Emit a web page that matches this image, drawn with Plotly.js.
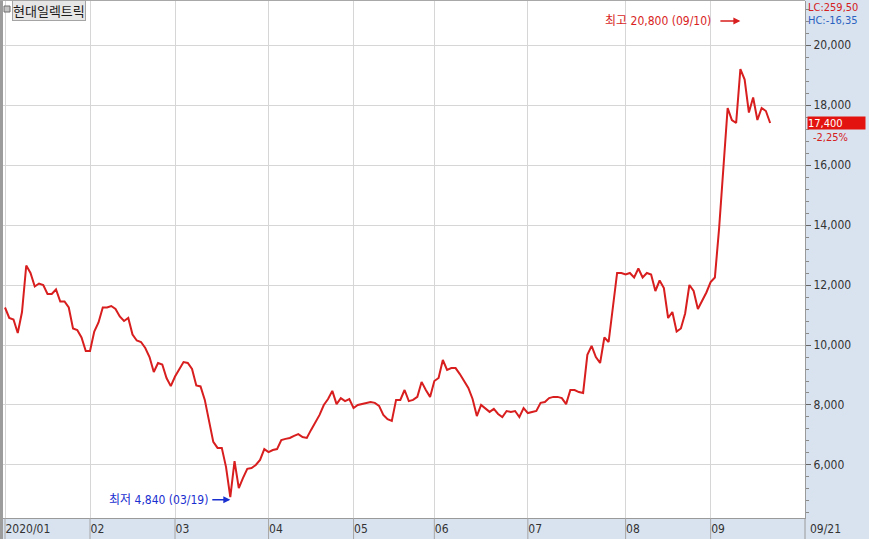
<!DOCTYPE html>
<html>
<head>
<meta charset="utf-8">
<script src="https://cdn.plot.ly/plotly-3.0.1.min.js"></script>
<style>
  html, body { margin: 0; padding: 0; background: #ffffff; }
  #chart { width: 869px; height: 539px; }
</style>
</head>
<body>
<div id="chart"></div>
<script>
// ---- data ----
const stockName = '현대일렉트릭';

const dates = [
  '2020-01-02','2020-01-03','2020-01-06','2020-01-07','2020-01-08','2020-01-09','2020-01-10','2020-01-13','2020-01-14','2020-01-15',
  '2020-01-16','2020-01-17','2020-01-20','2020-01-21','2020-01-22','2020-01-23','2020-01-28','2020-01-29','2020-01-30','2020-01-31',
  '2020-02-03','2020-02-04','2020-02-05','2020-02-06','2020-02-07','2020-02-10','2020-02-11','2020-02-12','2020-02-13','2020-02-14',
  '2020-02-17','2020-02-18','2020-02-19','2020-02-20','2020-02-21','2020-02-24','2020-02-25','2020-02-26','2020-02-27','2020-02-28',
  '2020-03-02','2020-03-03','2020-03-04','2020-03-05','2020-03-06','2020-03-09','2020-03-10','2020-03-11','2020-03-12','2020-03-13',
  '2020-03-16','2020-03-17','2020-03-18','2020-03-19','2020-03-20','2020-03-23','2020-03-24','2020-03-25','2020-03-26','2020-03-27',
  '2020-03-30','2020-03-31',
  '2020-04-01','2020-04-02','2020-04-03','2020-04-06','2020-04-07','2020-04-08','2020-04-09','2020-04-10','2020-04-13','2020-04-14',
  '2020-04-16','2020-04-17','2020-04-20','2020-04-21','2020-04-22','2020-04-23','2020-04-24','2020-04-27','2020-04-28','2020-04-29',
  '2020-05-04','2020-05-06','2020-05-07','2020-05-08','2020-05-11','2020-05-12','2020-05-13','2020-05-14','2020-05-15','2020-05-18',
  '2020-05-19','2020-05-20','2020-05-21','2020-05-22','2020-05-25','2020-05-26','2020-05-27','2020-05-28','2020-05-29',
  '2020-06-01','2020-06-02','2020-06-03','2020-06-04','2020-06-05','2020-06-08','2020-06-09','2020-06-10','2020-06-11','2020-06-12',
  '2020-06-15','2020-06-16','2020-06-17','2020-06-18','2020-06-19','2020-06-22','2020-06-23','2020-06-24','2020-06-25','2020-06-26',
  '2020-06-29','2020-06-30',
  '2020-07-01','2020-07-02','2020-07-03','2020-07-06','2020-07-07','2020-07-08','2020-07-09','2020-07-10','2020-07-13','2020-07-14',
  '2020-07-15','2020-07-16','2020-07-17','2020-07-20','2020-07-21','2020-07-22','2020-07-23','2020-07-24','2020-07-27','2020-07-28',
  '2020-07-29','2020-07-30','2020-07-31',
  '2020-08-03','2020-08-04','2020-08-05','2020-08-06','2020-08-07','2020-08-10','2020-08-11','2020-08-12','2020-08-13','2020-08-14',
  '2020-08-18','2020-08-19','2020-08-20','2020-08-21','2020-08-24','2020-08-25','2020-08-26','2020-08-27','2020-08-28','2020-08-31',
  '2020-09-01','2020-09-02','2020-09-03','2020-09-04','2020-09-07','2020-09-08','2020-09-09','2020-09-10','2020-09-11','2020-09-14',
  '2020-09-15','2020-09-16','2020-09-17','2020-09-18','2020-09-21'
];

const closes = [
  // Jan
  11250, 10900, 10850, 10400, 11100, 12650, 12400, 11950, 12050, 12000,
  11700, 11700, 11850, 11450, 11450, 11250, 10550, 10500, 10250, 9800,
  // Feb
  9800, 10450, 10750, 11250, 11250, 11300, 11200, 10950, 10800, 10900,
  10350, 10150, 10100, 9900, 9600, 9100, 9400, 9350, 8900, 8630,
  // Mar
  8950, 9200, 9430, 9400, 9200, 8650, 8620, 8170, 7430, 6770,
  6570, 6570, 5930, 4930, 6130, 5230, 5570, 5870, 5900, 6000,
  6170, 6530,
  // Apr
  6430, 6500, 6530, 6830, 6870, 6900, 6970, 7030, 6930, 6900,
  7170, 7400, 7670, 8000, 8200, 8470, 8030, 8230, 8130, 8200,
  // May
  7900, 8000, 8030, 8070, 8100, 8070, 7970, 7670, 7530, 7470,
  8170, 8170, 8500, 8130, 8170, 8270, 8770, 8500, 8270,
  // Jun
  8800, 8900, 9500, 9170, 9230, 9230, 9030, 8800, 8570, 8200,
  7630, 8000, 7900, 7770, 7870, 7700, 7600, 7800, 7770, 7800,
  7600, 7900,
  // Jul
  7730, 7770, 7800, 8070, 8100, 8230, 8270, 8270, 8230, 8030,
  8500, 8500, 8430, 8400, 9670, 9970, 9600, 9400, 10250, 10100,
  11250, 12400, 12400,
  // Aug
  12350, 12400, 12250, 12550, 12250, 12400, 12350, 11800, 12150, 11900,
  10900, 11100, 10450, 10550, 11050, 12000, 11800, 11200, 11450, 11750,
  // Sep
  12100, 12250, 13900, 16000, 17900, 17500, 17400, 19200, 18850, 17750,
  18250, 17500, 17900, 17800, 17400
];

const monthTicks  = ['2020-01-02','2020-02-03','2020-03-02','2020-04-01','2020-05-04','2020-06-01','2020-07-01','2020-08-03','2020-09-01'];
const monthLabels = ['2020/01','02','03','04','05','06','07','08','09'];
const currentDateLabel = '09/21';

const highPrice = 20800, highDate = '2020-09-10', highLabel = '09/10';
const lowPrice  = 4840,  lowDate  = '2020-03-19', lowLabel  = '03/19';
const lcText = 'LC:259,50';
const hcText = 'HC:-16,35';

// ---- helpers ----
const fmt = v => v.toLocaleString('en-US');
const last = closes[closes.length - 1];
const prev = closes[closes.length - 2];
const pct = ((last - prev) / prev * 100).toFixed(2).replace('.', ',');

const NUMFONT = '"Liberation Sans Narrow", "DejaVu Sans Condensed", "Liberation Sans", "Noto Sans CJK KR", sans-serif';
const KRFONT = '"Noto Sans CJK KR", "Noto Sans", sans-serif';
const PANEL = '#d9e3f0';
const RED = '#d81e1e';
const BLUE = '#1a2fd0';

const L = 3, R = 64, T = 1, B = 21, W = 869, H = 539;
const PW = W - L - R, PH = H - T - B;
const px = v => (v - L) / PW;          // page x -> paper
const py = v => (H - B - v) / PH;      // page y -> paper

const trace = {
  type: 'scatter', mode: 'lines',
  x: dates, y: closes,
  line: { color: RED, width: 2 },
  hoverinfo: 'skip'
};

const shapes = [
  // left border
  { type: 'rect', xref: 'paper', yref: 'paper', x0: px(0), x1: px(3), y0: py(539), y1: py(0),
    fillcolor: '#9c9c9c', line: { width: 0 }, layer: 'above' },
  // top border
  { type: 'line', xref: 'paper', yref: 'paper', x0: px(0), x1: px(805), y0: py(0.5), y1: py(0.5),
    line: { color: '#a8a8a8', width: 1 } },
  // small icon square
  { type: 'rect', xref: 'paper', yref: 'paper', x0: px(4), x1: px(10), y0: py(12), y1: py(6),
    fillcolor: '#c4c4c4', line: { color: '#6e6e6e', width: 1 } },
  // bottom-panel separator at right edge
  { type: 'line', xref: 'paper', yref: 'paper', x0: 1, x1: 1, y0: py(539), y1: 0,
    line: { color: '#9a9a9a', width: 1 } }
];
monthTicks.forEach(d => shapes.push({
  type: 'line', xref: 'x', yref: 'paper', x0: d, x1: d, y0: py(539), y1: 0,
  line: { color: '#a6a6a6', width: 1 }
}));

const annotations = [
  // stock name box
  { xref: 'paper', yref: 'paper', x: px(12), y: py(0), xanchor: 'left', yanchor: 'top',
    text: stockName, showarrow: false, bgcolor: '#e6e6e6', bordercolor: '#a4a4a4', borderwidth: 1, borderpad: 0,
    font: { family: KRFONT, size: 13, color: '#1a1a1a' } },
  // LC / HC
  { xref: 'paper', yref: 'paper', x: px(806), y: py(7), xanchor: 'left', yanchor: 'middle',
    text: lcText, showarrow: false, font: { family: NUMFONT, size: 11, color: '#d42020' } },
  { xref: 'paper', yref: 'paper', x: px(806), y: py(20.5), xanchor: 'left', yanchor: 'middle',
    text: hcText, showarrow: false, font: { family: NUMFONT, size: 11, color: '#2a62c0' } },
  // last value box
  { xref: 'paper', yref: 'y', x: 1, y: last, xanchor: 'left', yanchor: 'middle', xshift: 2,
    text: fmt(last), showarrow: false, bgcolor: '#e3140f', width: 57, height: 12, align: 'left', borderpad: 0,
    font: { family: NUMFONT, size: 11, color: '#ffffff' } },
  { xref: 'paper', yref: 'y', x: 1, y: last, xanchor: 'left', yanchor: 'middle', xshift: 6, yshift: -14,
    text: pct + '%', showarrow: false,
    font: { family: NUMFONT, size: 11, color: '#d42020' } },
  // current date label
  { xref: 'paper', yref: 'paper', x: 1, y: 0, xanchor: 'left', yanchor: 'top', xshift: 3, yshift: -2,
    text: currentDateLabel, showarrow: false, font: { family: NUMFONT, size: 12, color: '#333333' } },
  // high annotation
  { xref: 'x', yref: 'y', x: highDate, y: highPrice, ax: -20, ay: 0,
    text: '최고 ' + fmt(highPrice) + ' (' + highLabel + ')', xanchor: 'right', yanchor: 'middle',
    showarrow: true, arrowhead: 2, arrowsize: 1, arrowwidth: 1.4, arrowcolor: RED, borderpad: 8,
    font: { family: NUMFONT, size: 12, color: RED } },
  // low annotation
  { xref: 'x', yref: 'y', x: lowDate, y: lowPrice, ax: -18, ay: 0,
    text: '최저 ' + fmt(lowPrice) + ' (' + lowLabel + ')', xanchor: 'right', yanchor: 'middle',
    showarrow: true, arrowhead: 2, arrowsize: 1, arrowwidth: 1.4, arrowcolor: BLUE, borderpad: 3,
    font: { family: NUMFONT, size: 12, color: BLUE } }
];

const layout = {
  width: W, height: H,
  margin: { l: L, r: R, t: T, b: B, pad: 0 },
  paper_bgcolor: PANEL,
  plot_bgcolor: '#ffffff',
  showlegend: false,
  xaxis: {
    type: 'category',
    range: [-0.47, 188.2],
    tickmode: 'array', tickvals: monthTicks, ticktext: monthLabels,
    ticks: '', ticklabelposition: 'outside right',
    showgrid: true, gridcolor: '#d6d6d6', gridwidth: 1,
    showline: true, linecolor: '#9a9a9a', linewidth: 1,
    zeroline: false, fixedrange: true,
    tickfont: { family: NUMFONT, size: 12, color: '#333333' }
  },
  yaxis: {
    side: 'right',
    range: [4233, 21467],
    dtick: 2000, tick0: 0, tickformat: ',d',
    ticks: 'outside', ticklen: 5, tickcolor: '#666666', tickwidth: 1,
    minor: { dtick: 400, tick0: 0, ticks: 'outside', ticklen: 3, tickcolor: '#8a8a8a', showgrid: false },
    showgrid: true, gridcolor: '#d6d6d6', gridwidth: 1,
    showline: true, linecolor: '#9a9a9a', linewidth: 1,
    zeroline: false, fixedrange: true,
    tickfont: { family: NUMFONT, size: 12, color: '#333333' }
  },
  shapes: shapes,
  annotations: annotations
};

Plotly.newPlot('chart', [trace], layout, { displayModeBar: false, staticPlot: true });
</script>
</body>
</html>
